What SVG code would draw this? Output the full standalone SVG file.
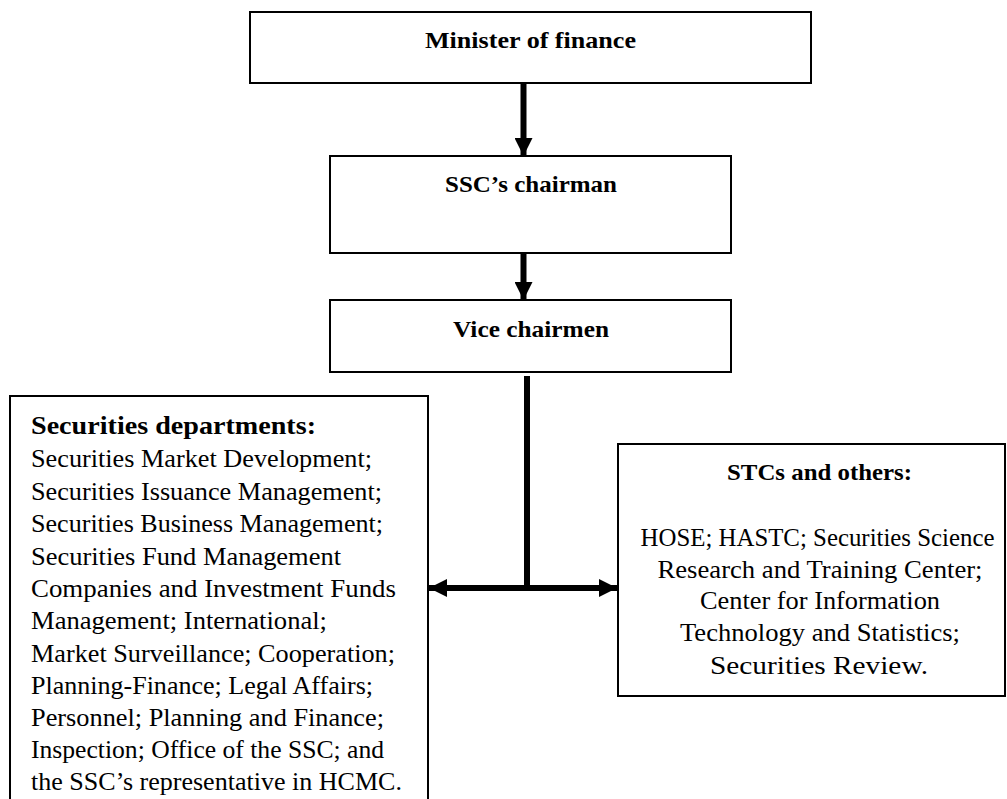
<svg xmlns="http://www.w3.org/2000/svg" width="1007" height="799" viewBox="0 0 1007 799">
<style>
.box{fill:#fff;stroke:#000;stroke-width:2}
.b{font-weight:bold}
.h{font-size:23px;text-anchor:middle}
.body{font-size:26px}
.c{text-anchor:middle}
.conn{stroke:#000;stroke-width:6;fill:none}
</style>
<defs>
<marker id="ah" markerUnits="userSpaceOnUse" markerWidth="18" markerHeight="18" viewBox="0 0 18 18" refX="18" refY="9" orient="auto-start-reverse">
<path d="M0,0 L18,9 L0,18 Z" fill="#000"/>
</marker>
</defs>
<rect width="1007" height="799" fill="#fff"/>
<g id="connectors">
<line class="conn" x1="523.5" y1="84" x2="523.5" y2="156" marker-end="url(#ah)"/>
<line class="conn" x1="523.5" y1="254" x2="523.5" y2="300" marker-end="url(#ah)"/>
<line class="conn" x1="527" y1="376" x2="527" y2="591"/>
<line class="conn" x1="429" y1="588" x2="617" y2="588" marker-start="url(#ah)" marker-end="url(#ah)"/>
</g>
<g id="minister" font-family="Liberation Serif, serif">
<rect class="box" x="250" y="12" width="561" height="71"/>
<text class="b h" x="530.5" y="48" textLength="211" lengthAdjust="spacingAndGlyphs">Minister of finance</text>
</g>
<g id="chairman" font-family="Liberation Serif, serif">
<rect class="box" x="330" y="156" width="401" height="97"/>
<text class="b h" x="531" y="192" textLength="172" lengthAdjust="spacingAndGlyphs">SSC’s chairman</text>
</g>
<g id="vice" font-family="Liberation Serif, serif">
<rect class="box" x="330" y="300" width="401" height="72"/>
<text class="b h" x="531" y="337" textLength="156" lengthAdjust="spacingAndGlyphs">Vice chairmen</text>
</g>
<g id="departments" font-family="Liberation Serif, serif">
<rect class="box" x="10" y="396" width="418" height="420"/>
<text class="b" font-size="26" x="31" y="434" textLength="285" lengthAdjust="spacingAndGlyphs">Securities departments:</text>
<text class="body" x="31" y="467" textLength="341" lengthAdjust="spacingAndGlyphs">Securities Market Development;</text>
<text class="body" x="31" y="499.5" textLength="351" lengthAdjust="spacingAndGlyphs">Securities Issuance Management;</text>
<text class="body" x="31" y="532" textLength="352" lengthAdjust="spacingAndGlyphs">Securities Business Management;</text>
<text class="body" x="31" y="564.5" textLength="310" lengthAdjust="spacingAndGlyphs">Securities Fund Management</text>
<text class="body" x="31" y="597" textLength="365" lengthAdjust="spacingAndGlyphs">Companies and Investment Funds</text>
<text class="body" x="31" y="629" textLength="296" lengthAdjust="spacingAndGlyphs">Management; International;</text>
<text class="body" x="31" y="661.5" textLength="364" lengthAdjust="spacingAndGlyphs">Market Surveillance; Cooperation;</text>
<text class="body" x="31" y="693.5" textLength="342" lengthAdjust="spacingAndGlyphs">Planning-Finance; Legal Affairs;</text>
<text class="body" x="31" y="725.5" textLength="353" lengthAdjust="spacingAndGlyphs">Personnel; Planning and Finance;</text>
<text class="body" x="31" y="757.5" textLength="353" lengthAdjust="spacingAndGlyphs">Inspection; Office of the SSC; and</text>
<text class="body" x="31" y="789.5" textLength="371" lengthAdjust="spacingAndGlyphs">the SSC’s representative in HCMC.</text>
</g>
<g id="stcs" font-family="Liberation Serif, serif">
<rect class="box" x="618" y="444" width="387" height="252"/>
<text class="b c" font-size="23" x="819.5" y="480" textLength="185" lengthAdjust="spacingAndGlyphs">STCs and others:</text>
<text class="body c" x="817.5" y="546" textLength="354" lengthAdjust="spacingAndGlyphs">HOSE; HASTC; Securities Science</text>
<text class="body c" x="820" y="577.5" textLength="325" lengthAdjust="spacingAndGlyphs">Research and Training Center;</text>
<text class="body c" x="820" y="609" textLength="240" lengthAdjust="spacingAndGlyphs">Center for Information</text>
<text class="body c" x="820" y="641" textLength="280" lengthAdjust="spacingAndGlyphs">Technology and Statistics;</text>
<text class="body c" x="819" y="673.5" textLength="218" lengthAdjust="spacingAndGlyphs">Securities Review.</text>
</g>
</svg>
